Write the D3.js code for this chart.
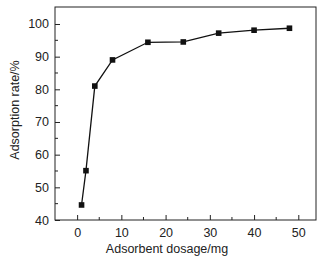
<!DOCTYPE html>
<html>
<head>
<meta charset="utf-8">
<script src="https://cdn.jsdelivr.net/npm/d3@7"></script>
<style>
  body { margin: 0; background: #fff; }
  text { font-family: "Liberation Sans", Arial, sans-serif; fill: #222; }
</style>
</head>
<body>
<div class="canvas"></div>
<script>
// data
const dosage = [1, 2, 4, 8, 16, 24, 32, 40, 48]
const rate = [44.6, 55.1, 81, 89, 94.4, 94.5, 97.2, 98.1, 98.7]
const xTicks = [0, 10, 20, 30, 40, 50]
const yTicks = [40, 50, 60, 70, 80, 90, 100]

const svgWidth = 325
const svgHeight = 260
const margin = {top: 7, right: 9, bottom: 40, left: 55}
const graphWidth = svgWidth - margin.left - margin.right
const graphHeight = svgHeight - margin.top - margin.bottom

const svg = d3.select('.canvas')
    .append('svg')
    .attr('width', svgWidth)
    .attr('height', svgHeight)

const graph = svg.append('g')
    .attr('transform', `translate(${margin.left}, ${margin.top})`)

const x = d3.scaleLinear().domain([-5, 54]).range([0, graphWidth])
const y = d3.scaleLinear().domain([40, 105.2]).range([graphHeight, 0])

// minor ticks (inward, short)
const xMinor = d3.range(5, 54, 10)
const yMinor = d3.range(45, 105, 10)

const xAxis = d3.axisBottom(x).tickValues(xTicks).tickSize(-5).tickPadding(8)
const yAxis = d3.axisLeft(y).tickValues(yTicks).tickSize(-5).tickPadding(6)

const xAxisGroup = graph.append('g')
    .attr('transform', `translate(0, ${graphHeight})`)
    .call(xAxis)
const yAxisGroup = graph.append('g').call(yAxis)

xAxisGroup.append('g').selectAll('line')
    .data(xMinor).enter().append('line')
    .attr('x1', d => x(d)).attr('x2', d => x(d))
    .attr('y1', 0).attr('y2', -3)
    .attr('stroke', '#222')
yAxisGroup.append('g').selectAll('line')
    .data(yMinor).enter().append('line')
    .attr('y1', d => y(d)).attr('y2', d => y(d))
    .attr('x1', 0).attr('x2', 3)
    .attr('stroke', '#222')

;[xAxisGroup, yAxisGroup].forEach(g => {
    g.select('.domain').remove()
    g.selectAll('.tick line').attr('stroke', '#222')
    g.selectAll('.tick text').attr('font-size', '12.5px').attr('fill', '#222')
        .style('font-family', '"Liberation Sans", Arial, sans-serif')
})

// frame
graph.append('rect')
    .attr('width', graphWidth)
    .attr('height', graphHeight)
    .attr('fill', 'none')
    .attr('stroke', '#222')
    .attr('stroke-width', 1)

const line = d3.line()
    .x((d, i) => x(dosage[i]))
    .y(d => y(d))

graph.append('path')
    .datum(rate)
    .attr('fill', 'none')
    .attr('stroke', '#111')
    .attr('stroke-width', 1.3)
    .attr('d', line)

graph.selectAll('.pt')
    .data(rate).enter().append('rect')
    .attr('class', 'pt')
    .attr('x', (d, i) => x(dosage[i]) - 2.8)
    .attr('y', d => y(d) - 2.8)
    .attr('width', 5.6)
    .attr('height', 5.6)
    .attr('fill', '#111')

svg.append('text')
    .text('Adsorbent dosage/mg')
    .attr('x', 167)
    .attr('y', 253)
    .attr('text-anchor', 'middle')
    .attr('font-size', '12.5px')

svg.append('text')
    .text('Adsorption rate/%')
    .attr('transform', 'translate(19, 110) rotate(-90)')
    .attr('text-anchor', 'middle')
    .attr('font-size', '12.5px')
</script>
</body>
</html>
